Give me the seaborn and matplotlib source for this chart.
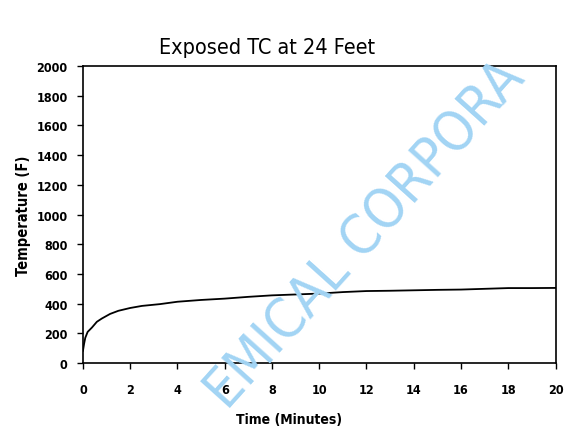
import matplotlib
matplotlib.use("Agg")
import matplotlib.pyplot as plt
import seaborn as sns
import pandas as pd

# readings (minutes, deg F)
time_min = [0, 0.05, 0.1, 0.2, 0.38, 0.59, 0.8, 1.15, 1.5, 2, 2.5, 3.26, 4, 5, 6,
            7, 8, 9, 10, 11, 12, 13, 14, 15, 16, 17, 18, 19, 20]
temp_f = [81, 130, 170, 210, 239, 278, 300, 331, 352, 371, 385, 397, 413, 425, 434,
          446, 456, 462, 468, 478, 485, 487, 490, 493, 495, 500, 505, 505, 506]

x_ticks = list(range(0, 21, 2))
y_ticks = list(range(0, 2001, 200))

df = pd.DataFrame({"Time": time_min, "Temp": temp_f})

sns.set_style("ticks")
plt.rcParams["font.family"] = ["DejaVu Sans"]
plt.rcParams["font.stretch"] = "condensed"
plt.rcParams["text.color"] = "black"
plt.rcParams["axes.labelcolor"] = "black"
plt.rcParams["xtick.color"] = "black"
plt.rcParams["ytick.color"] = "black"

fig = plt.figure(figsize=(5.64, 4.35), dpi=100)
ax = fig.add_axes([0.147, 0.163, 0.838, 0.683])

# watermark from the scan
fig.text(0.648, 0.46, "EMICAL CORPORA", rotation=48, fontsize=40, color="#a2d4f4",
         ha="center", va="center", zorder=0)
ax.set_facecolor("none")

sns.lineplot(data=df, x="Time", y="Temp", ax=ax, color="black", linewidth=1.3)

ax.set_xlim(0, 20)
ax.set_ylim(0, 2000)
ax.set_xticks(x_ticks)
ax.set_yticks(y_ticks)
ax.tick_params(direction="out", length=4, width=1, labelsize=9)
ax.tick_params(axis="x", pad=10)
ax.tick_params(axis="y", pad=7)
for lab in ax.get_xticklabels() + ax.get_yticklabels():
    lab.set_fontweight("bold")
for sp in ax.spines.values():
    sp.set_visible(True)
    sp.set_linewidth(1.2)
    sp.set_color("black")

ax.set_xlabel("")
ax.set_ylabel("Temperature (F)", fontsize=10.5, fontweight="bold", labelpad=4)
fig.text(0.512, 0.035, "Time (Minutes)", fontsize=10, fontweight="bold",
         ha="center", va="center")
fig.text(0.473, 0.89, "Exposed TC at 24 Feet", fontsize=15.5,
         ha="center", va="center")

fig.savefig("out.png", dpi=100)
